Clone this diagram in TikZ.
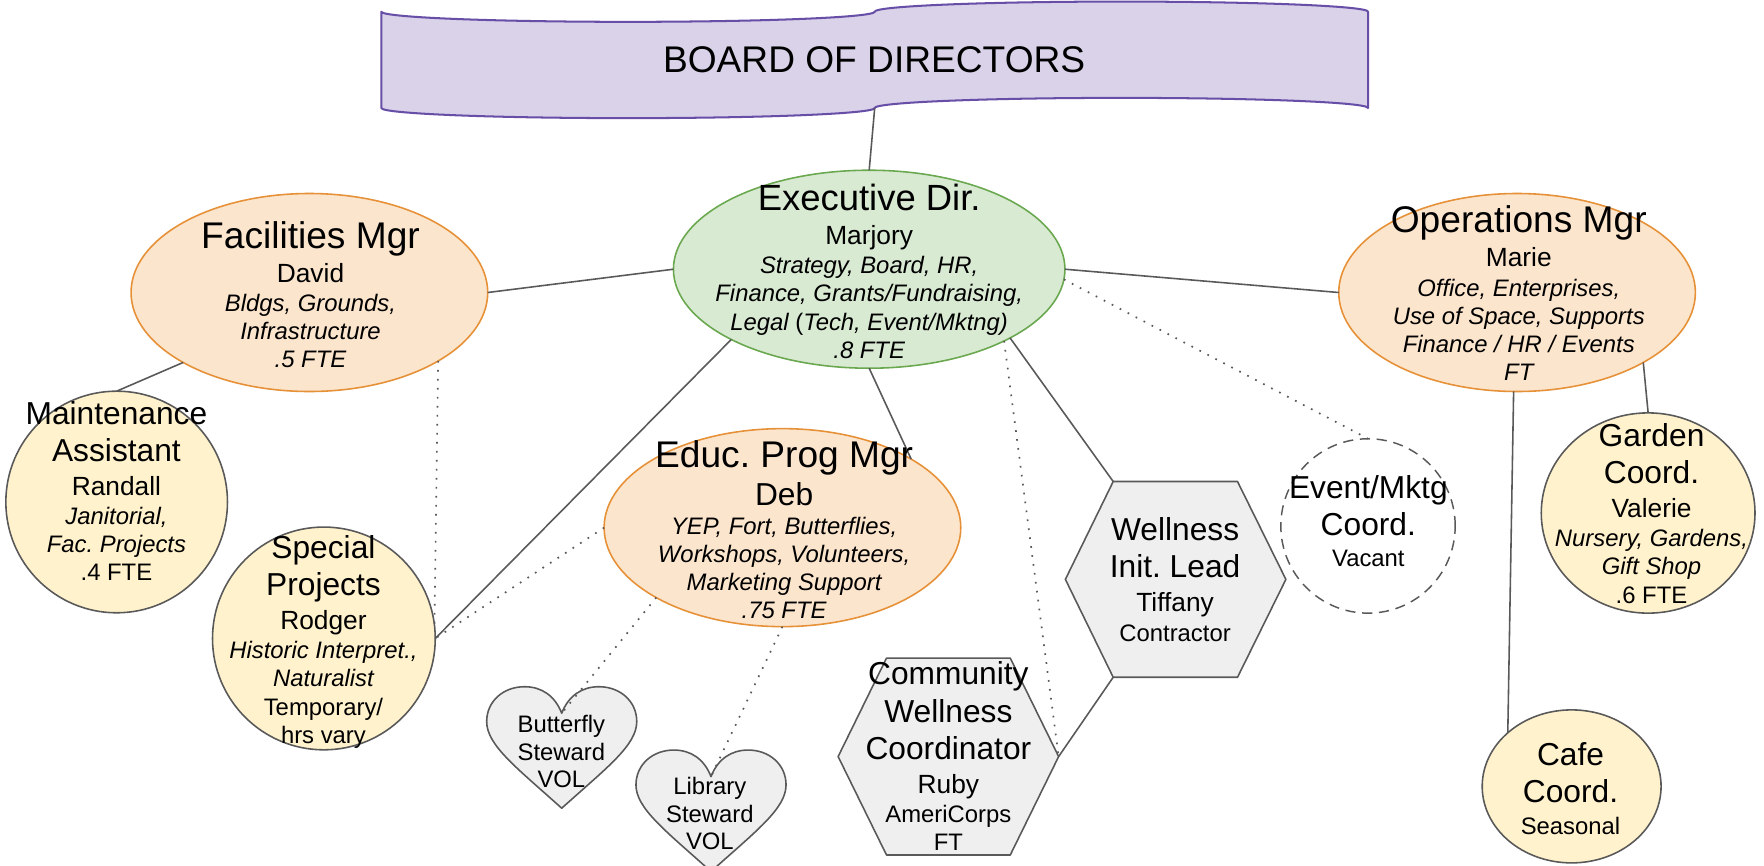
\documentclass[tikz,border=0pt]{standalone}
\usepackage{fontspec}
\setmainfont{Liberation Sans}
\usetikzlibrary{shapes.geometric}
\setlength{\lineskiplimit}{-100pt}
\frenchspacing
\definecolor{purpfill}{HTML}{D9D2E9}
\definecolor{purpline}{HTML}{674EA7}
\definecolor{grnfill}{HTML}{D9EAD3}
\definecolor{grnline}{HTML}{6AA84F}
\definecolor{orfill}{HTML}{FCE5CD}
\definecolor{orline}{HTML}{E69138}
\definecolor{ylfill}{HTML}{FFF2CC}
\definecolor{gyfill}{HTML}{EFEFEF}
\definecolor{edgec}{HTML}{595959}
\newcommand\OrgT[1]{{\fontsize{33}{25}\selectfont #1}}
\newcommand\OrgE[1]{{\fontsize{32.4}{25}\selectfont #1}}
\newcommand\OrgM[1]{{\fontsize{28.2}{25}\selectfont #1}}
\newcommand\OrgN[1]{{\fontsize{23.4}{25}\selectfont #1}}
\newcommand\OrgI[1]{{\fontsize{21.2}{25}\selectfont\itshape #1}}
\newcommand\OrgS[1]{{\fontsize{21.2}{25}\selectfont #1}}
\tikzset{
  conn/.style={draw=edgec, line width=1.4pt},
  dotline/.style={draw=edgec, line width=1.5pt, dash pattern=on 1.5pt off 6.5pt},
  mgr/.style={ellipse, draw=orline, fill=orfill, line width=1.4pt, inner sep=0pt, outer sep=0pt, minimum width=317pt, minimum height=176pt},
  execst/.style={ellipse, draw=grnline, fill=grnfill, line width=1.4pt, inner sep=0pt, outer sep=0pt, minimum width=348pt, minimum height=176pt},
  ylw/.style={ellipse, draw=edgec, fill=ylfill, line width=1.4pt, inner sep=0pt, outer sep=0pt},
  evst/.style={ellipse, draw=edgec, line width=1.3pt, dash pattern=on 9pt off 6pt, inner sep=0pt, outer sep=0pt, minimum size=155pt},
  gyst/.style={draw=edgec, fill=gyfill, line width=1.4pt, line join=round},
  banner/.style={draw=purpline, fill=purpfill, line width=1.8pt, line join=round},
  txt/.style={align=center, inner sep=0pt, text=black, font=\fontsize{21.2}{25}\selectfont},
}
\begin{document}
\begin{tikzpicture}[x=1pt,y=-1pt]
\fill[white] (0,0) rectangle (1568,769);
\useasboundingbox (0,0) rectangle (1568,769);

% Board banner (punched tape)
\draw[banner] (339,10.4) .. controls (339,15.4) and (437.2,19.4) .. (558.25,19.4)
  .. controls (679.4,19.4) and (777.5,15.4) .. (777.5,10.4)
  .. controls (777.5,5.4) and (875.6,1.4) .. (996.75,1.4)
  .. controls (1117.9,1.4) and (1216,5.4) .. (1216,10.4)
  -- (1216,96)
  .. controls (1216,91) and (1117.9,87) .. (996.75,87)
  .. controls (875.6,87) and (777.5,91) .. (777.5,96)
  .. controls (777.5,101) and (679.4,105) .. (558.25,105)
  .. controls (437.2,105) and (339,101) .. (339,96) -- cycle;
\coordinate (board-b) at (777.5,96);
\node[txt, font=\fontsize{33}{36}\selectfont] (board) at (777,52.8) {BOARD OF DIRECTORS};

% shapes
\node[execst] (exec) at (772.6,239.3) {};
\node[mgr] (fac) at (275,260) {};
\node[mgr] (ops) at (1348.5,260) {};
\node[mgr] (educ) at (695.5,469) {};
\node[ylw, minimum size=197pt] (mt) at (103.7,446.2) {};
\node[ylw, minimum size=198pt] (sp) at (287.9,567.5) {};
\node[ylw, minimum width=190pt, minimum height=178pt] (gd) at (1465,456) {};
\node[ylw, minimum width=159pt, minimum height=136pt] (cafe) at (1397,699) {};
\node[evst] (ev) at (1216,467.5) {};

% hexagons
\coordinate (wl-l) at (947,515);
\coordinate (wl-tl) at (989.5,428);
\coordinate (wl-tr) at (1100,428);
\coordinate (wl-r) at (1143,515);
\coordinate (wl-br) at (1100,602);
\coordinate (wl-bl) at (989.5,602);
\draw[gyst] (wl-l) -- (wl-tl) -- (wl-tr) -- (wl-r) -- (wl-br) -- (wl-bl) -- cycle;
\coordinate (cw-l) at (745,672.5);
\coordinate (cw-tl) at (788,585);
\coordinate (cw-tr) at (898,585);
\coordinate (cw-r) at (941,672.5);
\coordinate (cw-br) at (898,760);
\coordinate (cw-bl) at (788,760);
\draw[gyst] (cw-l) -- (cw-tl) -- (cw-tr) -- (cw-r) -- (cw-br) -- (cw-bl) -- cycle;

% hearts
\begin{scope}[shift={(499.3,610.4)}]
\draw[gyst] (0,23.6) .. controls (-6,8) and (-18,0) .. (-33,0) .. controls (-52,0) and (-66.7,13) .. (-66.7,31)
  .. controls (-66.7,52) and (-40,72) .. (0,108) .. controls (40,72) and (66.7,52) .. (66.7,31)
  .. controls (66.7,13) and (52,0) .. (33,0) .. controls (18,0) and (6,8) .. (0,23.6) -- cycle;
\coordinate (bf-n) at (0,23.6);
\end{scope}
\begin{scope}[shift={(632,666.7)}]
\draw[gyst] (0,23.6) .. controls (-6,8) and (-18,0) .. (-33,0) .. controls (-52,0) and (-66.7,13) .. (-66.7,31)
  .. controls (-66.7,52) and (-40,72) .. (0,108) .. controls (40,72) and (66.7,52) .. (66.7,31)
  .. controls (66.7,13) and (52,0) .. (33,0) .. controls (18,0) and (6,8) .. (0,23.6) -- cycle;
\coordinate (lib-n) at (0,23.6);
\end{scope}

% connectors
\draw[conn] (board-b) -- (exec.north);
\draw[conn] (exec.west) -- (fac.east);
\draw[conn] (exec.east) -- (ops.west);
\draw[conn] (exec.south) -- (educ.28.4);
\draw[conn] (exec.207) -- (sp.east);
\draw[conn] (exec.-26.5) -- (wl-tl);
\draw[dotline] (exec.-28.5) -- (cw-r);
\draw[dotline] (exec.-3) -- (ev.north);
\draw[conn] (cw-r) -- (wl-bl);
\draw[conn] (fac.209) -- (mt.north);
\draw[dotline] (fac.-28.6) -- (sp.7);
\draw[dotline] (educ.west) -- (sp.east);
\draw[dotline] (educ.209.5) -- (bf-n);
\draw[dotline] (educ.south) -- (lib-n);
\draw[conn] (ops.-29) -- (gd.north);
\draw[conn] (ops.268) -- (cafe.140);

% texts
\node[txt] (exec-t) at (772.6,241) {\OrgE{Executive Dir.}\\[5.5pt]\OrgN{Marjory}\\[1pt]\OrgI{Strategy, Board, HR,}\\\OrgI{Finance, Grants/Fundraising,}\\\OrgI{Legal} (\OrgI{Tech, Event/Mktng)}\\\OrgI{.8 FTE}};
\node[txt] (fac-t) at (276,261.9) {\OrgT{Facilities Mgr}\\[5.5pt]\OrgN{David}\\[1pt]\OrgI{Bldgs, Grounds,}\\\OrgI{Infrastructure}\\\OrgI{.5 FTE}};
\node[txt] (ops-t) at (1350,260.5) {\OrgT{Operations Mgr}\\[5.5pt]\OrgN{Marie}\\[1pt]\OrgI{Office, Enterprises,}\\\OrgI{Use of Space, Supports}\\\OrgI{Finance / HR / Events}\\\OrgI{FT}};
\node[txt] (educ-t) at (697,470.85) {\OrgT{Educ. Prog Mgr}\\[9pt]\OrgM{Deb}\\[1pt]\OrgI{YEP, Fort, Butterflies,}\\\OrgI{Workshops, Volunteers,}\\\OrgI{Marketing Support}\\\OrgI{.75 FTE}};
\node[txt] (mt-t) at (103.5,436.5) {\OrgM{Maintenance}\\[8.3pt]\OrgM{Assistant}\\[5pt]\OrgN{Randall}\\[1pt]\OrgI{Janitorial,}\\\OrgI{Fac. Projects}\\\OrgS{.4 FTE}};
\node[txt] (sp-t) at (287.5,570.4) {\OrgM{Special}\\[8.3pt]\OrgM{Projects}\\[5pt]\OrgN{Rodger}\\[1pt]\OrgI{Historic Interpret.,}\\\OrgI{Naturalist}\\\OrgS{Temporary/}\\\OrgS{hrs vary}};
\node[txt] (gd-t) at (1468,456.3) {\OrgM{Garden}\\[8.3pt]\OrgM{Coord.}\\[5pt]\OrgN{Valerie}\\[1pt]\OrgI{Nursery, Gardens,}\\\OrgI{Gift Shop}\\\OrgS{.6 FTE}};
\node[txt] (cafe-t) at (1396,701.2) {\OrgM{Cafe}\\[8.3pt]\OrgM{Coord.}\\[3.4pt]\OrgS{Seasonal}};
\node[txt] (ev-t) at (1216.3,463) {\OrgM{Event/Mktg}\\[8.3pt]\OrgM{Coord.}\\[2.3pt]\OrgS{Vacant}};
\node[txt] (wl-t) at (1044.5,515.3) {\OrgM{Wellness}\\[8.3pt]\OrgM{Init. Lead}\\[5pt]\OrgN{Tiffany}\\[1.7pt]\OrgS{Contractor}};
\node[txt] (cw-t) at (843,672.4) {\OrgM{Community}\\[8.3pt]\OrgM{Wellness}\\[8.3pt]\OrgM{Coordinator}\\[5pt]\OrgN{Ruby}\\[1pt]\OrgS{AmeriCorps}\\\OrgS{FT}};
\node[txt] (bf-t) at (499,668) {\OrgS{Butterfly}\\[-0.6pt]\OrgS{Steward}\\[-0.6pt]\OrgS{VOL}};
\node[txt] (lib-t) at (631,723.4) {\OrgS{Library}\\[-0.6pt]\OrgS{Steward}\\[-0.6pt]\OrgS{VOL}};
\end{tikzpicture}
\end{document}
